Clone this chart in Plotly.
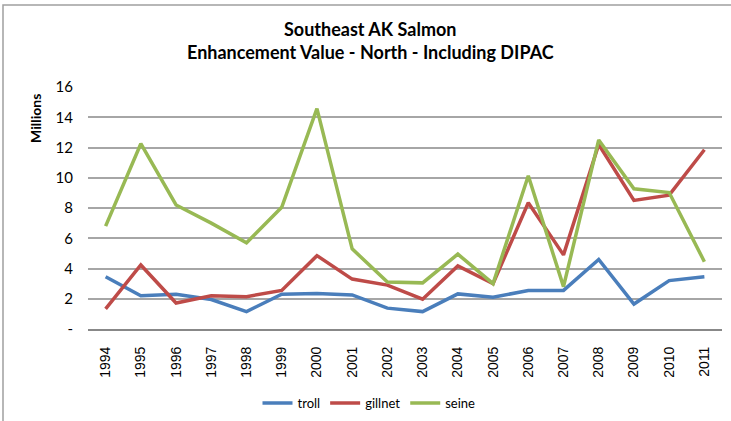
import plotly.graph_objects as go

# values in millions
years = [str(y) for y in range(1994, 2012)]
troll = [3.45, 2.2, 2.3, 1.95, 1.15, 2.3, 2.35, 2.25, 1.38, 1.15,
         2.32, 2.1, 2.55, 2.55, 4.6, 1.65, 3.2, 3.45]
gillnet = [1.33, 4.23, 1.72, 2.2, 2.14, 2.55, 4.85, 3.3, 2.9, 1.97,
           4.17, 3.0, 8.35, 4.9, 12.2, 8.5, 8.85, 11.85]
seine = [6.8, 12.25, 8.2, 7.0, 5.7, 8.05, 14.57, 5.3, 3.1, 3.05,
         4.95, 3.0, 10.13, 2.8, 12.5, 9.27, 9.02, 4.45]

y_ticks = [0, 2, 4, 6, 8, 10, 12, 14, 16]
y_labels = ['-'] + [str(v) for v in y_ticks[1:]]

title_lines = ['Southeast AK Salmon',
               'Enhancement Value - North - Including DIPAC']

series = [('troll', troll, '#4A7EBB'),
          ('gillnet', gillnet, '#BE4B48'),
          ('seine', seine, '#98B954')]

W, H = 731, 421
L, R, T, B = 88, 9, 87, 92
pw, ph = W - L - R, H - T - B


def px_x(x):
    # pixel column -> paper fraction
    return (x - L) / pw


def px_y(y):
    # pixel row (from top) -> paper fraction
    return ((H - B) - y) / ph


fig = go.Figure()
for name, vals, color in series:
    fig.add_trace(go.Scatter(
        x=years, y=vals, name=name, mode='lines',
        line=dict(color=color, width=3.5),
    ))

# title lines and the y axis title as free text
notes = []
for text, ypix in zip(title_lines, [29, 52]):
    notes.append(dict(
        text='<b>' + text + '</b>', xref='paper', yref='paper',
        x=px_x(370), y=px_y(ypix), xanchor='center', yanchor='middle',
        showarrow=False, font=dict(size=18, family='Lato'),
    ))
notes.append(dict(
    text='<b>Millions</b>', textangle=-90,
    xref='paper', yref='paper', x=px_x(35), y=px_y(119),
    xanchor='center', yanchor='middle', showarrow=False,
    font=dict(size=14, family='Lato'),
))

fig.update_layout(
    width=W, height=H,
    margin=dict(l=L, r=R, t=T, b=B),
    paper_bgcolor='white', plot_bgcolor='white',
    font=dict(family='Lato, Open Sans, sans-serif', color='#000000'),
    showlegend=True,
    legend=dict(
        orientation='h', x=px_x(369), xanchor='center',
        yref='container', y=1 - 403 / H, yanchor='middle',
        font=dict(size=13, family='Lato'),
        itemwidth=30, tracegroupgap=0,
    ),
    xaxis=dict(
        type='category', range=[-0.5, 17.5], automargin=False,
        tickangle=-90, tickfont=dict(size=14, family='Liberation Sans'),
        showgrid=False, showline=True, linecolor='#888888', linewidth=2,
        ticks='', ticklabelstandoff=10,
    ),
    yaxis=dict(
        range=[0, 16], tickvals=y_ticks, ticktext=y_labels, automargin=False,
        tickfont=dict(size=15, family='Lato'),
        showgrid=True, gridcolor='#A6A6A6', gridwidth=1.5,
        zeroline=False, showline=False, ticks='', ticklabelstandoff=14,
    ),
    annotations=notes,
    # chart-area frame: only its left and top edges fall inside the picture
    shapes=[dict(
        type='rect', xref='paper', yref='paper', layer='above',
        x0=px_x(3), x1=px_x(745), y0=px_y(435), y1=px_y(5),
        line=dict(color='#A0A0A0', width=1.5),
    )],
)

# drop the default 8px page margin so the figure sits at the window origin
fig.write_html('out.html', config={'displayModeBar': False},
               post_script="document.body.style.margin='0';")
